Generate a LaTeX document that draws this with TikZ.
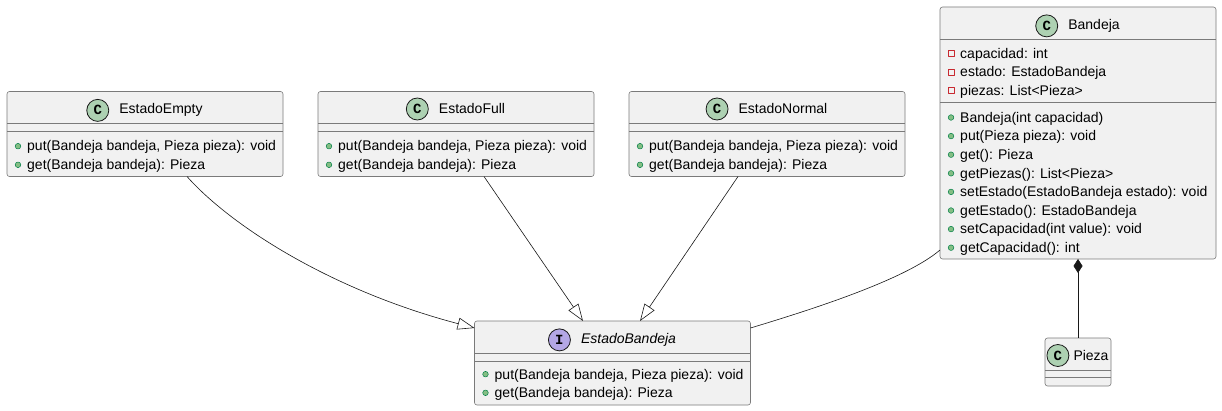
\documentclass[tikz,border=0pt]{standalone}
\usepackage{fontspec}
\setmainfont{Liberation Sans}
\newfontfamily\iconfont{Liberation Mono}
\usetikzlibrary{positioning,arrows.meta}

\definecolor{umlfill}{HTML}{F1F1F1}
\definecolor{umlline}{HTML}{181818}
\definecolor{umlframe}{HTML}{7A7A7A}
\definecolor{classicon}{HTML}{ADD1B2}
\definecolor{ifaceicon}{HTML}{B4A7E5}
\definecolor{pubfill}{HTML}{84BE84}
\definecolor{publine}{HTML}{038048}
\definecolor{privline}{HTML}{C82930}

\tikzset{
  umlbox/.style={draw=umlframe, fill=umlfill, line width=0.6pt, rounded corners=2.5pt,
    inner sep=0pt, outer sep=0pt, minimum width=276pt},
  sepline/.style={draw=umlframe, line width=0.6pt},
  cicon/.style={circle, draw=umlline, fill=classicon, line width=0.8pt, minimum size=22pt,
    inner sep=0pt, font=\iconfont\bfseries\fontsize{14}{14}\selectfont},
  iicon/.style={cicon, fill=ifaceicon},
  title/.style={inner sep=0pt, anchor=base},
  member/.style={inner sep=0pt, anchor=base west},
  pubdot/.style={fill=pubfill, draw=publine, line width=0.5pt},
  privbox/.style={draw=privline, line width=0.8pt},
  gen/.style={draw=umlline, line width=0.6pt, -{Triangle[fill=white, length=17pt, width=12pt]}},
  assoc/.style={draw=umlline, line width=0.6pt},
  comp/.style={draw=umlline, line width=0.6pt, {Diamond[length=14pt, width=9pt]}-}
}

% public and private members: name, base west, text
\newcommand{\pubm}[3]{%
  \node[member] (#1) at (#2) {#3};
  \filldraw[pubdot] ([xshift=-9pt, yshift=4.8pt]#1.base west) circle (2.8pt);}
\newcommand{\privm}[3]{%
  \node[member] (#1) at (#2) {#3};
  \draw[privbox] ([xshift=-12pt, yshift=1.8pt]#1.base west) rectangle ++(6,-6);}

\begin{document}
\begin{tikzpicture}[x=1pt, y=-1pt, font=\fontsize{14}{17}\selectfont, line join=round]
  \path[use as bounding box, fill=white] (0,0) rectangle (1222,411);

  % EstadoEmpty
  \node[umlbox, minimum height=85pt] (empty) at (145,134) {};
  \draw[sepline] ([yshift=-32pt]empty.north west) -- ([yshift=-32pt]empty.north east);
  \draw[sepline] ([yshift=-40pt]empty.north west) -- ([yshift=-40pt]empty.north east);
  \node[title] (emptyname) at (161,114) {EstadoEmpty};
  \node[cicon, left=10pt of emptyname] (emptyicon) {C};
  \pubm{emptyput}{27,151}{put(Bandeja bandeja, Pieza pieza): void}
  \pubm{emptyget}{27,169.6}{get(Bandeja bandeja): Pieza}

  % EstadoFull
  \node[umlbox, minimum height=85pt] (full) at (456,134) {};
  \draw[sepline] ([yshift=-32pt]full.north west) -- ([yshift=-32pt]full.north east);
  \draw[sepline] ([yshift=-40pt]full.north west) -- ([yshift=-40pt]full.north east);
  \node[title] (fullname) at (472,114) {EstadoFull};
  \node[cicon, left=10pt of fullname] (fullicon) {C};
  \pubm{fullput}{338,151}{put(Bandeja bandeja, Pieza pieza): void}
  \pubm{fullget}{338,169.6}{get(Bandeja bandeja): Pieza}

  % EstadoNormal
  \node[umlbox, minimum height=85pt] (normal) at (767,134) {};
  \draw[sepline] ([yshift=-32pt]normal.north west) -- ([yshift=-32pt]normal.north east);
  \draw[sepline] ([yshift=-40pt]normal.north west) -- ([yshift=-40pt]normal.north east);
  \node[title] (normalname) at (783,114) {EstadoNormal};
  \node[cicon, left=10pt of normalname] (normalicon) {C};
  \pubm{normalput}{649,151}{put(Bandeja bandeja, Pieza pieza): void}
  \pubm{normalget}{649,169.6}{get(Bandeja bandeja): Pieza}

  % Bandeja
  \node[umlbox, minimum height=252pt] (bandeja) at (1078,133) {};
  \draw[sepline] ([yshift=-32pt]bandeja.north west) -- ([yshift=-32pt]bandeja.north east);
  \draw[sepline] ([yshift=-95pt]bandeja.north west) -- ([yshift=-95pt]bandeja.north east);
  \node[title] (bandejaname) at (1094,29.5) {Bandeja};
  \node[cicon, left=10pt of bandejaname] (bandejaicon) {C};
  \privm{bcap}{960,58.3}{capacidad: int}
  \privm{bestado}{960,76.9}{estado: EstadoBandeja}
  \privm{bpiezas}{960,95.5}{piezas: List<Pieza>}
  \pubm{bnew}{960,122.3}{Bandeja(int capacidad)}
  \pubm{bput}{960,140.9}{put(Pieza pieza): void}
  \pubm{bget}{960,159.5}{get(): Pieza}
  \pubm{bgetpiezas}{960,178.1}{getPiezas(): List<Pieza>}
  \pubm{bsetestado}{960,196.7}{setEstado(EstadoBandeja estado): void}
  \pubm{bgetestado}{960,215.3}{getEstado(): EstadoBandeja}
  \pubm{bsetcap}{960,233.9}{setCapacidad(int value): void}
  \pubm{bgetcap}{960,252.5}{getCapacidad(): int}

  % EstadoBandeja
  \node[umlbox, minimum height=84pt] (ebandeja) at (612.5,363) {};
  \draw[sepline] ([yshift=-32pt]ebandeja.north west) -- ([yshift=-32pt]ebandeja.north east);
  \draw[sepline] ([yshift=-40pt]ebandeja.north west) -- ([yshift=-40pt]ebandeja.north east);
  \node[title, font=\fontsize{14}{17}\selectfont\itshape] (ebandejaname) at (628.5,343.5) {EstadoBandeja};
  \node[iicon, left=10pt of ebandejaname] (ebandejaicon) {I};
  \pubm{eput}{494.5,379}{put(Bandeja bandeja, Pieza pieza): void}
  \pubm{eget}{494.5,397.6}{get(Bandeja bandeja): Pieza}

  % Pieza
  \node[umlbox, minimum width=66pt, minimum height=48pt] (pieza) at (1078,362) {};
  \draw[sepline] ([yshift=-32pt]pieza.north west) -- ([yshift=-32pt]pieza.north east);
  \draw[sepline] ([yshift=-39pt]pieza.north west) -- ([yshift=-39pt]pieza.north east);
  \node[title] (piezaname) at (1091,360.5) {Pieza};
  \node[cicon, left=4pt of piezaname] (piezaicon) {C};

  % relations
  \draw[gen] ([xshift=42pt]empty.south) .. controls (230,225) and (330,290) .. ([yshift=35pt]ebandeja.west);
  \draw[gen] ([xshift=28pt]full.south) -- ([xshift=-29.5pt]ebandeja.north);
  \draw[gen] ([xshift=-29pt]normal.south) -- ([xshift=27.5pt]ebandeja.north);
  \draw[assoc] ([yshift=9pt]bandeja.south west) .. controls (905,280) and (810,310) .. ([yshift=35pt]ebandeja.east);
  \draw[comp] (bandeja.south) -- (pieza.north);
\end{tikzpicture}
\end{document}
